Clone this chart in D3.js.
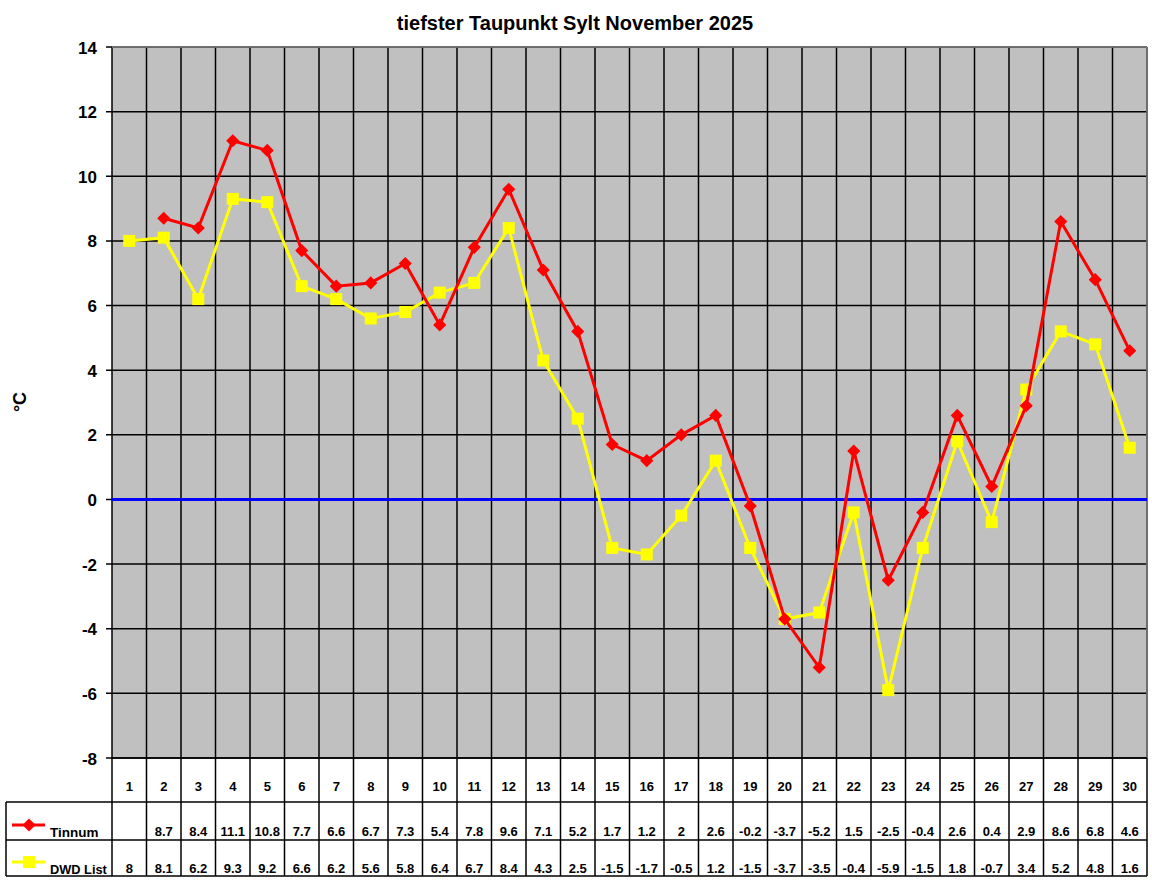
<!DOCTYPE html>
<html>
<head>
<meta charset="utf-8">
<script src="https://cdn.jsdelivr.net/npm/d3@7"></script>
<style>
  body { margin: 0; background: #fff; }
  text { font-family: Arial, "Liberation Sans", sans-serif; font-weight: bold; }
</style>
</head>
<body>
<div id="chart"></div>
<script>
// days of November 2025
const days = d3.range(1, 31);
// tiefster Taupunkt, Tinnum (day 1 missing)
const tinnum = [null, 8.7, 8.4, 11.1, 10.8, 7.7, 6.6, 6.7, 7.3, 5.4, 7.8, 9.6, 7.1, 5.2, 1.7,
  1.2, 2, 2.6, -0.2, -3.7, -5.2, 1.5, -2.5, -0.4, 2.6, 0.4, 2.9, 8.6, 6.8, 4.6];
// DWD List
const dwdList = [8, 8.1, 6.2, 9.3, 9.2, 6.6, 6.2, 5.6, 5.8, 6.4, 6.7, 8.4, 4.3, 2.5, -1.5,
  -1.7, -0.5, 1.2, -1.5, -3.7, -3.5, -0.4, -5.9, -1.5, 1.8, -0.7, 3.4, 5.2, 4.8, 1.6];
const yTicks = d3.range(-8, 15, 2);

const width = 1152, height = 882;
const plotLeft = 112, plotRight = 1147, plotTop = 47, plotBottom = 758;
const rowDay = 802, rowT = 840, rowD = 876, tableLeft = 6;

const svg = d3.select("#chart").append("svg")
  .attr("width", width).attr("height", height);

const x = d3.scaleBand().domain(days).range([plotLeft, plotRight]);
const y = d3.scaleLinear().domain([-8, 14]).range([plotBottom, plotTop]);

// plot background
svg.append("rect").attr("x", plotLeft).attr("y", plotTop)
  .attr("width", plotRight - plotLeft).attr("height", plotBottom - plotTop)
  .attr("fill", "#c0c0c0");

// horizontal grid
svg.append("g").selectAll("line").data(yTicks).join("line")
  .attr("x1", plotLeft - 6).attr("x2", plotRight)
  .attr("y1", d => y(d)).attr("y2", d => y(d))
  .attr("stroke", "#000").attr("stroke-width", 1.5);

// y labels
svg.append("g").selectAll("text").data(yTicks).join("text")
  .attr("x", 97).attr("y", d => y(d) + 6.5)
  .attr("text-anchor", "end").attr("font-size", 17)
  .text(d => d);

// vertical grid / table columns
const colEdges = days.map(d => x(d)).concat([plotRight]);
svg.append("g").selectAll("line").data(colEdges).join("line")
  .attr("x1", d => d).attr("x2", d => d)
  .attr("y1", plotTop).attr("y2", rowD)
  .attr("stroke", "#000").attr("stroke-width", 1.5);

// top/right border of plot
svg.append("line").attr("x1", plotLeft).attr("x2", plotRight).attr("y1", plotTop).attr("y2", plotTop)
  .attr("stroke", "#808080").attr("stroke-width", 1.5);
svg.append("line").attr("x1", plotRight).attr("x2", plotRight).attr("y1", plotTop).attr("y2", plotBottom)
  .attr("stroke", "#808080").attr("stroke-width", 1.5);

// table horizontal lines
[[plotLeft, plotBottom], [tableLeft, rowDay], [tableLeft, rowT], [tableLeft, rowD]].forEach(([x0, yy]) => {
  svg.append("line").attr("x1", x0).attr("x2", plotRight).attr("y1", yy).attr("y2", yy)
    .attr("stroke", "#000").attr("stroke-width", 1.5);
});
svg.append("line").attr("x1", tableLeft).attr("x2", tableLeft).attr("y1", rowDay).attr("y2", rowD)
  .attr("stroke", "#000").attr("stroke-width", 1.5);

// zero line
svg.append("line").attr("x1", plotLeft).attr("x2", plotRight).attr("y1", y(0)).attr("y2", y(0))
  .attr("stroke", "#0000ff").attr("stroke-width", 3);

const cx = d => x(d) + x.bandwidth() / 2;

// series lines
const line = d3.line().defined(d => d[1] !== null)
  .x(d => cx(d[0])).y(d => y(d[1]));

const dData = days.map((d, i) => [d, dwdList[i]]);
svg.append("path").datum(dData)
  .attr("d", line).attr("fill", "none").attr("stroke", "#ffff00").attr("stroke-width", 3);
svg.append("g").selectAll("rect").data(dData).join("rect")
  .attr("x", d => cx(d[0]) - 6).attr("y", d => y(d[1]) - 6)
  .attr("width", 12).attr("height", 12).attr("fill", "#ffff00");

const tData = days.map((d, i) => [d, tinnum[i]]);
svg.append("path").datum(tData)
  .attr("d", line).attr("fill", "none").attr("stroke", "#ff0000").attr("stroke-width", 3);
const diamond = d3.symbol().type(d3.symbolDiamond2).size(110);
svg.append("g").selectAll("path").data(tData.filter(d => d[1] !== null)).join("path")
  .attr("d", diamond)
  .attr("transform", d => `translate(${cx(d[0])},${y(d[1])})`)
  .attr("fill", "#ff0000");

// table text
svg.append("g").selectAll("text").data(days).join("text")
  .attr("x", d => cx(d)).attr("y", 791).attr("text-anchor", "middle")
  .attr("font-size", 13).text(d => d);
svg.append("g").selectAll("text").data(tData).join("text")
  .attr("x", d => cx(d[0])).attr("y", 836).attr("text-anchor", "middle")
  .attr("font-size", 13).text(d => d[1] === null ? "" : d[1]);
svg.append("g").selectAll("text").data(dData).join("text")
  .attr("x", d => cx(d[0])).attr("y", 873).attr("text-anchor", "middle")
  .attr("font-size", 13).text(d => d[1]);

// legend keys in table
svg.append("line").attr("x1", 12).attr("x2", 45).attr("y1", 825).attr("y2", 825)
  .attr("stroke", "#ff0000").attr("stroke-width", 3);
svg.append("path").attr("d", diamond).attr("transform", "translate(29,825)").attr("fill", "#ff0000");
svg.append("text").attr("x", 50).attr("y", 837).attr("font-size", 13.5).text("Tinnum");

svg.append("line").attr("x1", 12).attr("x2", 45).attr("y1", 862).attr("y2", 862)
  .attr("stroke", "#ffff00").attr("stroke-width", 3);
svg.append("rect").attr("x", 23).attr("y", 856).attr("width", 12).attr("height", 12).attr("fill", "#ffff00");
svg.append("text").attr("x", 50).attr("y", 874).attr("font-size", 12.8).text("DWD List");

// title and axis label
svg.append("text").attr("x", 575).attr("y", 30).attr("text-anchor", "middle")
  .attr("font-size", 20).text("tiefster Taupunkt Sylt November 2025");
svg.append("text").attr("transform", "translate(26,402) rotate(-90)")
  .attr("text-anchor", "middle").attr("font-size", 18).text("°C");
</script>
</body>
</html>
